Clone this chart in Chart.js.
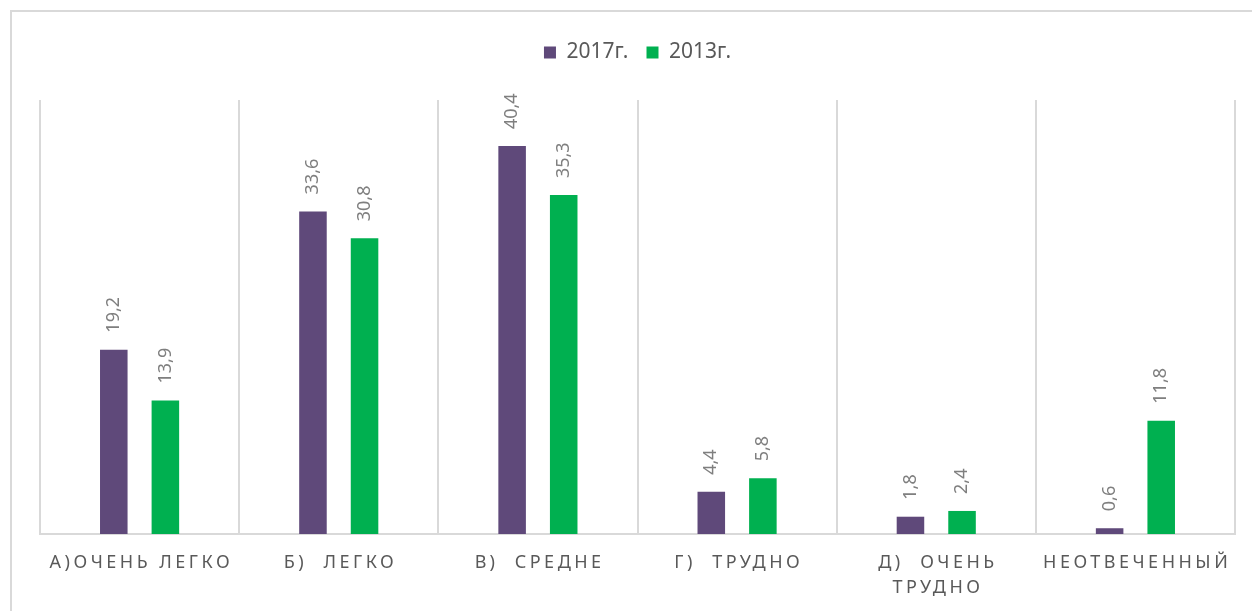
<!DOCTYPE html>
<html lang="ru">
<head>
    <meta charset="UTF-8">
    <title>Опрос</title>
    <script src="https://cdn.jsdelivr.net/npm/chart.js"></script>
    <style>
        body { margin: 0; background: #fff; }
        #wrap { width: 1252px; height: 611px; }
    </style>
</head>
<body>
    <div id="wrap"><canvas id="chart" width="1252" height="611"></canvas></div>

    <script>
        // данные
        const categories = ['А)ОЧЕНЬ ЛЕГКО', 'Б)  ЛЕГКО', 'В)  СРЕДНЕ', 'Г)  ТРУДНО', ['Д)  ОЧЕНЬ', 'ТРУДНО'], 'НЕОТВЕЧЕННЫЙ'];
        const values2017 = [19.2, 33.6, 40.4, 4.4, 1.8, 0.6];
        const values2013 = [13.9, 30.8, 35.3, 5.8, 2.4, 11.8];

        const gridColor = '#d9d9d9';

        // рамка вокруг диаграммы
        const frame = {
            id: 'frame',
            beforeDraw(chart) {
                const c = chart.ctx;
                c.save();
                c.strokeStyle = gridColor;
                c.lineWidth = 2;
                c.beginPath();
                c.moveTo(11, 611);
                c.lineTo(11, 11);
                c.lineTo(1252, 11);
                c.stroke();
                c.restore();
            }
        };

        // место под легендой
        const legendGap = {
            id: 'legendGap',
            beforeLayout(chart) {
                if (chart.legend && !chart.legend._patched) {
                    const fit = chart.legend.fit;
                    chart.legend.fit = function () {
                        fit.call(this);
                        this.height += 27;
                    };
                    chart.legend._patched = true;
                }
            }
        };

        // подписи значений (повернутые)
        const valueLabels = {
            id: 'valueLabels',
            afterDatasetsDraw(chart) {
                const c = chart.ctx;
                c.save();
                c.font = '18px "Noto Sans"';
                c.fillStyle = '#7f7f7f';
                c.textAlign = 'left';
                c.textBaseline = 'middle';
                chart.data.datasets.forEach((ds, di) => {
                    chart.getDatasetMeta(di).data.forEach((bar, i) => {
                        c.save();
                        c.translate(bar.x, bar.y - 17);
                        c.rotate(-Math.PI / 2);
                        c.fillText(String(ds.data[i]).replace('.', ','), 0, 0);
                        c.restore();
                    });
                });
                c.restore();
            }
        };

        // подписи категорий с разрядкой
        const catLabels = {
            id: 'catLabels',
            afterDraw(chart) {
                const c = chart.ctx;
                const x = chart.scales.x;
                const sp = 3.5;
                c.save();
                c.font = '18px "Noto Sans"';
                c.fillStyle = '#595959';
                c.textAlign = 'center';
                c.textBaseline = 'middle';
                c.letterSpacing = sp + 'px';
                categories.forEach((lbl, i) => {
                    const lines = Array.isArray(lbl) ? lbl : [lbl];
                    const cx = x.getPixelForValue(i) + sp / 2;
                    lines.forEach((t, j) => c.fillText(t, cx, 563 + j * 25));
                });
                c.restore();
            }
        };

        const chart = new Chart(document.getElementById('chart').getContext('2d'), {
            type: 'bar',
            data: {
                labels: categories,
                datasets: [
                    {
                        label: '2017г.',
                        data: values2017,
                        backgroundColor: '#5f497a',
                        categoryPercentage: 0.518,
                        barPercentage: 0.534
                    },
                    {
                        label: '2013г.',
                        data: values2013,
                        backgroundColor: '#00b050',
                        categoryPercentage: 0.518,
                        barPercentage: 0.534
                    }
                ]
            },
            options: {
                responsive: false,
                animation: false,
                layout: { padding: { top: 24, left: 40, right: 17, bottom: 77 } },
                plugins: {
                    legend: {
                        position: 'top',
                        labels: {
                            boxWidth: 12,
                            boxHeight: 12,
                            padding: 18,
                            color: '#595959',
                            font: { family: '"Noto Sans"', size: 21 }
                        }
                    },
                    tooltip: { enabled: false }
                },
                scales: {
                    x: {
                        grid: { color: gridColor, lineWidth: 2, offset: true, drawTicks: false },
                        border: { color: gridColor, width: 2 },
                        ticks: { display: false }
                    },
                    y: {
                        display: false,
                        min: 0,
                        max: 45.2
                    }
                }
            },
            plugins: [frame, legendGap, valueLabels, catLabels]
        });
    </script>
</body>
</html>
